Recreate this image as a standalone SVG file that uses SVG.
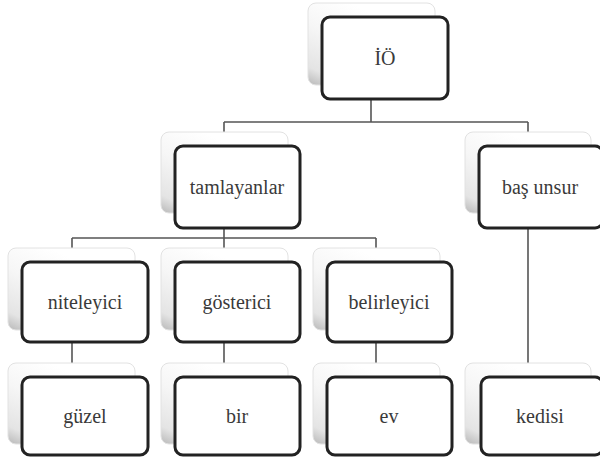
<svg xmlns="http://www.w3.org/2000/svg" width="600" height="458" viewBox="0 0 600 458">
<defs>
<linearGradient id="sh" x1="0" y1="1" x2="0.6" y2="0.2">
<stop offset="0" stop-color="#b8b8b8"/>
<stop offset="0.18" stop-color="#e4e4e4"/>
<stop offset="0.6" stop-color="#f6f6f6"/>
<stop offset="1" stop-color="#ffffff"/>
</linearGradient>
</defs>
<style>
.sh{fill:url(#sh);stroke:#e2e2e2;stroke-width:1}
.bx{fill:#ffffff;stroke:#222222;stroke-width:3}
text{font-family:"Times New Roman","Liberation Serif","Noto Serif","DejaVu Serif",FreeSerif,Georgia,serif;font-size:20px;fill:#3a3a3a;text-anchor:middle;dominant-baseline:central}
.c{fill:none;stroke:#555555;stroke-width:1.6}
</style>
<rect width="600" height="458" fill="#ffffff"/>
<g id="connectors">
<path class="c" d="M371 99V122M224 122H528M224 122V132M528 122V132"/>
<path class="c" d="M224 228V238M72 238H376M72 238V248M224 238V248M376 238V248"/>
<path class="c" d="M72 342V363M224 342V363M376 342V363M528 228V363"/>
</g>
<g id="n-io">
<rect class="sh" x="308" y="3" width="127" height="82" rx="8"/>
<rect class="bx" x="322" y="17" width="126" height="82" rx="8"/>
<text x="385" y="58">İÖ</text>
</g>
<g id="n-tamlayanlar">
<rect class="sh" x="161" y="132" width="127" height="81" rx="8"/>
<rect class="bx" x="175" y="146" width="125" height="82" rx="8"/>
<text x="237" y="187">tamlayanlar</text>
</g>
<g id="n-bas-unsur">
<rect class="sh" x="465" y="132" width="126" height="81" rx="8"/>
<rect class="bx" x="479" y="146" width="124" height="82" rx="8"/>
<text x="540" y="187">baş unsur</text>
</g>
<g id="n-niteleyici">
<rect class="sh" x="8" y="248" width="127" height="82" rx="8"/>
<rect class="bx" x="22" y="262" width="126" height="80" rx="8"/>
<text x="85" y="302">niteleyici</text>
</g>
<g id="n-gosterici">
<rect class="sh" x="161" y="248" width="127" height="82" rx="8"/>
<rect class="bx" x="175" y="262" width="125" height="80" rx="8"/>
<text x="237" y="302">gösterici</text>
</g>
<g id="n-belirleyici">
<rect class="sh" x="313" y="248" width="127" height="82" rx="8"/>
<rect class="bx" x="327" y="262" width="125" height="80" rx="8"/>
<text x="389" y="302">belirleyici</text>
</g>
<g id="n-guzel">
<rect class="sh" x="8" y="363" width="127" height="81" rx="8"/>
<rect class="bx" x="22" y="377" width="126" height="78" rx="8"/>
<text x="85" y="416">güzel</text>
</g>
<g id="n-bir">
<rect class="sh" x="161" y="363" width="127" height="81" rx="8"/>
<rect class="bx" x="175" y="377" width="125" height="78" rx="8"/>
<text x="237" y="416">bir</text>
</g>
<g id="n-ev">
<rect class="sh" x="313" y="363" width="127" height="81" rx="8"/>
<rect class="bx" x="327" y="377" width="125" height="78" rx="8"/>
<text x="389" y="416">ev</text>
</g>
<g id="n-kedisi">
<rect class="sh" x="465" y="363" width="126" height="81" rx="8"/>
<rect class="bx" x="481" y="377" width="122" height="78" rx="8"/>
<text x="540" y="416">kedisi</text>
</g>
</svg>
